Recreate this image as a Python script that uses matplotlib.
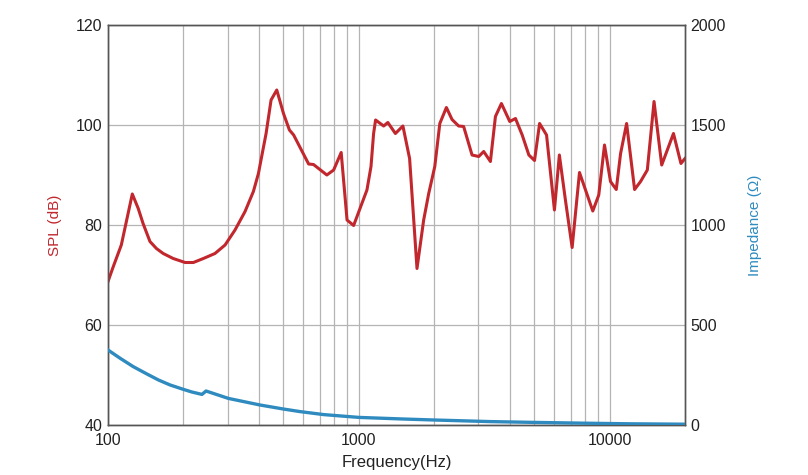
import matplotlib
matplotlib.use("Agg")
import matplotlib.pyplot as plt
from matplotlib.ticker import FixedLocator, NullFormatter

plt.rcParams['font.family'] = ['Liberation Sans', 'DejaVu Sans']

# SPL response (Hz, dB)
freq_spl = [100, 105, 113, 125, 132, 138, 147, 156, 166, 182, 203, 219, 240, 267, 293, 321,
            352, 380, 398, 427, 447, 471,
            501, 529, 550, 631, 660, 746, 794, 851, 898, 954, 1078, 1119, 1146, 1167,
            1257, 1306, 1400, 1500, 1595, 1707, 1815, 1901, 2010, 2105, 2236, 2355,
            2502, 2620, 2830, 3008, 3150, 3350, 3508, 3706, 4001, 4217, 4485, 4768,
            5023, 5262, 5609, 6030, 6310, 6670, 7095, 7590, 8576, 9060, 9550, 10090,
            10640, 11070, 11700, 12590, 13300, 14150, 15050, 16150, 17990, 19270, 20000]
spl_db = [68.7, 71.7, 76.0, 86.2, 83.3, 80.3, 76.7, 75.3, 74.3, 73.3, 72.5, 72.5, 73.3, 74.3, 76.0, 79.0,
          82.7, 86.7, 90.3, 98.3, 105.0, 107.0,
          102.3, 99.0, 98.0, 92.2, 92.1, 90.0, 91.0, 94.5, 81.0, 79.9, 87.0, 91.7, 98.3, 101.0,
          99.8, 100.5, 98.3, 99.8, 93.3, 71.3, 81.0, 86.3, 91.7, 100.3, 103.5, 101.1,
          99.8, 99.7, 94.0, 93.7, 94.7, 92.7, 101.7, 104.3, 100.7, 101.3, 98.0, 94.0,
          92.9, 100.3, 98.0, 83.0, 94.0, 85.0, 75.5, 90.5, 82.8, 86.0, 96.0, 88.7,
          87.1, 94.3, 100.3, 87.1, 88.7, 91.0, 104.7, 92.0, 98.3, 92.3, 93.3]

# Impedance (Hz, ohm)
freq_imp = [100, 112, 126, 143, 159, 177, 200, 216, 237, 246, 302, 404, 500, 583, 725,
            1000, 1500, 2000, 3350, 5000, 8000, 12000, 20000]
impedance = [375, 333, 292, 255, 225, 200, 178, 165, 153, 170, 133, 100, 80, 67, 52,
             38, 30, 25, 17, 13, 9, 6, 4]

red = '#c1272d'
blue = '#2f8bbf'
grid_c = '#b4b4b4'
spine_c = '#555555'

fig = plt.figure(figsize=(8.08, 4.75), dpi=100)
ax = fig.add_axes([108/808, 1-425/475, (685-108)/808, 400/475])
ax2 = ax.twinx()

ax.set_xscale('log')
ax.set_xlim(100, 20000)
ax.set_ylim(40, 120)
ax2.set_ylim(0, 2000)

ax.xaxis.set_major_locator(FixedLocator([100, 1000, 10000]))
ax.xaxis.set_minor_locator(FixedLocator([f * m for f in (100, 1000, 10000) for m in range(2, 10) if f * m < 20000]))
ax.xaxis.set_minor_formatter(NullFormatter())
ax.set_xticklabels(['100', '1000', '10000'])
ax.set_yticks([40, 60, 80, 100, 120])
ax2.set_yticks([0, 500, 1000, 1500, 2000])

ax.grid(True, which='both', axis='x', color=grid_c, lw=0.9)
ax.grid(True, which='major', axis='y', color=grid_c, lw=0.9)
ax.set_axisbelow(True)

ax.plot(freq_spl, spl_db, color=red, lw=2.2, zorder=3)
ax2.plot(freq_imp, impedance, color=blue, lw=2.4, zorder=3)

for a in (ax, ax2):
    a.tick_params(which='both', length=0, labelsize=11.5, colors='#222222', pad=4)
    for s in a.spines.values():
        s.set_color(spine_c)
        s.set_linewidth(1.0)
ax.tick_params(axis='x', pad=6)

ax.set_xlabel('Frequency(Hz)', fontsize=12, color='#222222', labelpad=5)
ax.set_ylabel('SPL (dB)', fontsize=11, color=red, labelpad=10)
ax2.set_ylabel('Impedance (Ω)', fontsize=11, color=blue, labelpad=16)

fig.savefig('out.png', dpi=100)
